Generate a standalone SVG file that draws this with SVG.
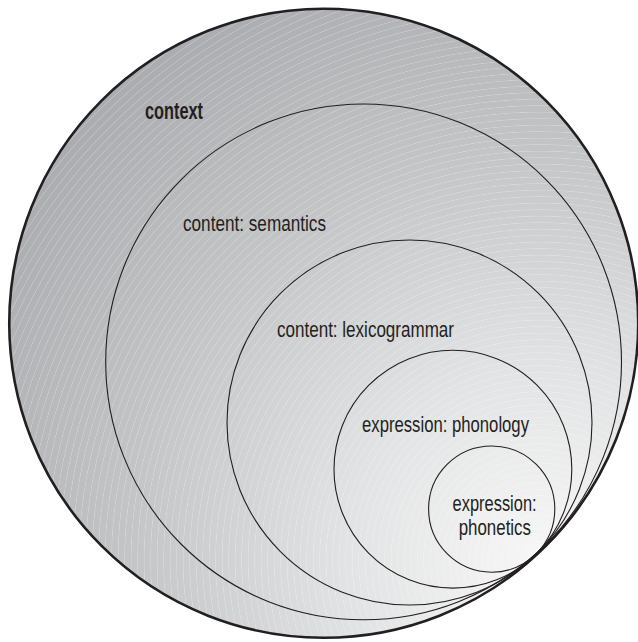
<svg xmlns="http://www.w3.org/2000/svg" width="638" height="642" viewBox="0 0 638 642">
<defs>
<radialGradient id="bg" gradientUnits="userSpaceOnUse" cx="540" cy="560" r="640">
<stop offset="0" stop-color="#f7f7f7"/>
<stop offset="0.3" stop-color="#e2e3e4"/>
<stop offset="0.65" stop-color="#c3c4c6"/>
<stop offset="1" stop-color="#a9abae"/>
</radialGradient>
<radialGradient id="rings" gradientUnits="userSpaceOnUse" cx="540" cy="560" r="6.5" spreadMethod="repeat">
<stop offset="0" stop-color="#fff" stop-opacity="0"/>
<stop offset="0.8" stop-color="#fff" stop-opacity="0"/>
<stop offset="0.9" stop-color="#fff" stop-opacity="0.3"/>
<stop offset="1" stop-color="#fff" stop-opacity="0"/>
</radialGradient>
</defs>
<style>
.inner{fill:none;stroke:#231f20;stroke-width:1.1}
.outer{stroke:#231f20;stroke-width:2.6}
text{font-family:"Liberation Sans Narrow","Liberation Sans",Arial,sans-serif;font-size:22px;fill:#231f20}
.b{font-weight:bold;font-size:23px}
</style>
<g id="context">
<circle class="outer" cx="323.75" cy="323.25" r="314.5" fill="url(#bg)"/>
<circle cx="323.75" cy="323.25" r="313" fill="url(#rings)"/>
<text class="b" x="145" y="119" textLength="58" lengthAdjust="spacingAndGlyphs">context</text>
</g>
<g id="semantics">
<circle class="inner" cx="363.6" cy="361.9" r="257.9"/>
<text x="183" y="230.5" textLength="143" lengthAdjust="spacingAndGlyphs">content: semantics</text>
</g>
<g id="lexicogrammar">
<circle class="inner" cx="409.5" cy="422.5" r="182.5"/>
<text x="277" y="337" textLength="177" lengthAdjust="spacingAndGlyphs">content: lexicogrammar</text>
</g>
<g id="phonology">
<circle class="inner" cx="452.9" cy="469.2" r="118.9"/>
<text x="362" y="432" textLength="167" lengthAdjust="spacingAndGlyphs">expression: phonology</text>
</g>
<g id="phonetics">
<circle class="inner" cx="491.7" cy="509.1" r="63.1"/>
<text x="452.6" y="511" textLength="84" lengthAdjust="spacingAndGlyphs">expression:</text>
<text x="458.7" y="535" textLength="72.3" lengthAdjust="spacingAndGlyphs">phonetics</text>
</g>
<g id="connectors"/>
</svg>
